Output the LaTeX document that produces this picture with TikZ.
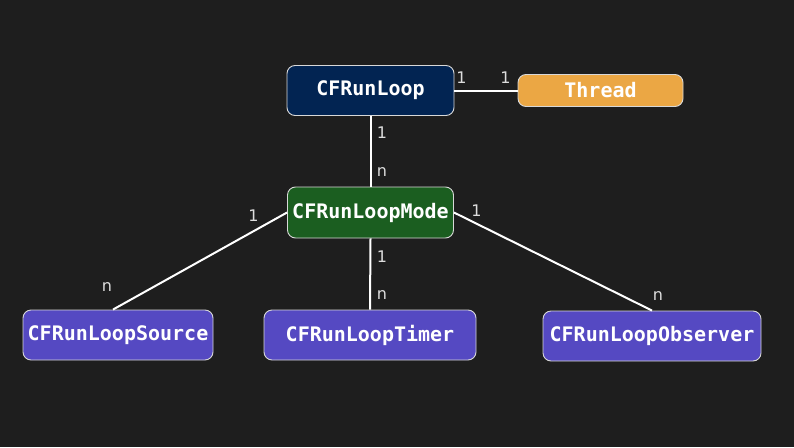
\documentclass[tikz,border=0pt]{standalone}
\usepackage{xcolor}
\usepackage{fontspec}
\setmainfont{DejaVu Sans}
\setmonofont{DejaVu Sans Mono}
\usepackage{tikz}
\usetikzlibrary{positioning}
\definecolor{bgcol}{HTML}{1E1E1E}
\definecolor{boxline}{HTML}{D8D8D8}
\definecolor{loopblue}{HTML}{022452}
\definecolor{threadorange}{HTML}{EBA744}
\definecolor{modegreen}{HTML}{1B5E20}
\definecolor{itempurple}{HTML}{5549C2}
\definecolor{labelgray}{HTML}{DDDDDD}

\begin{document}
\begin{tikzpicture}[x=1pt, y=-1pt,
basenode/.style={rectangle, rounded corners=8pt, draw=boxline, line width=0.9pt, text=white, inner sep=0pt, font=\ttfamily\bfseries\fontsize{20}{24}\selectfont},
loopnode/.style={basenode, fill=loopblue, minimum width=167pt, minimum height=50pt},
threadnode/.style={basenode, fill=threadorange, minimum width=165pt, minimum height=32pt},
modenode/.style={basenode, fill=modegreen, minimum width=166pt, minimum height=51pt},
itemnode/.style={basenode, fill=itempurple, minimum height=50pt},
countlabel/.style={text=labelgray, inner sep=0pt, font=\fontsize{16}{19}\selectfont},
link/.style={draw=white, line width=2pt},
]
\useasboundingbox (0,0) rectangle (794,447);
\fill[bgcol] (0,0) rectangle (794,447);

%Nodes
\node[loopnode]		(runloop)		at (370.5,90.5)		{CFRunLoop};
\node[threadnode]	(thread)		at (600.5,90.5)		{Thread};
\node[modenode]		(mode)			at (370.5,212.5)	{CFRunLoopMode};
\node[itemnode, minimum width=190pt]	(source)	at (118,335)	{CFRunLoopSource};
\node[itemnode, minimum width=212pt]	(timer)		at (370,335)	{CFRunLoopTimer};
\node[itemnode, minimum width=218pt]	(observer)	at (652,336)	{CFRunLoopObserver};

%Lines
\draw[link] (runloop.east) -- (thread.west)
	node[countlabel, at start, xshift=7pt, yshift=12.5pt] {1}
	node[countlabel, at end, xshift=-12pt, yshift=12.5pt] {1};
\draw[link] (runloop.south) -- (mode.north)
	node[countlabel, at start, xshift=11.5pt, yshift=-17pt] {1}
	node[countlabel, at end, xshift=11.5pt, yshift=15pt] {n};
\draw[link] (mode.west) -- ([xshift=-5pt]source.north)
	node[countlabel, at start, xshift=-33.5pt, yshift=-3.5pt] {1}
	node[countlabel, at end, xshift=-6pt, yshift=23pt] {n};
\draw[link] (mode.south) -- (timer.north)
	node[countlabel, at start, xshift=11.5pt, yshift=-18pt] {1}
	node[countlabel, at end, xshift=12pt, yshift=15pt] {n};
\draw[link] (mode.east) -- (observer.north)
	node[countlabel, at start, xshift=22.5pt, yshift=1.5pt] {1}
	node[countlabel, at end, xshift=6pt, yshift=15pt] {n};
\end{tikzpicture}
\end{document}
